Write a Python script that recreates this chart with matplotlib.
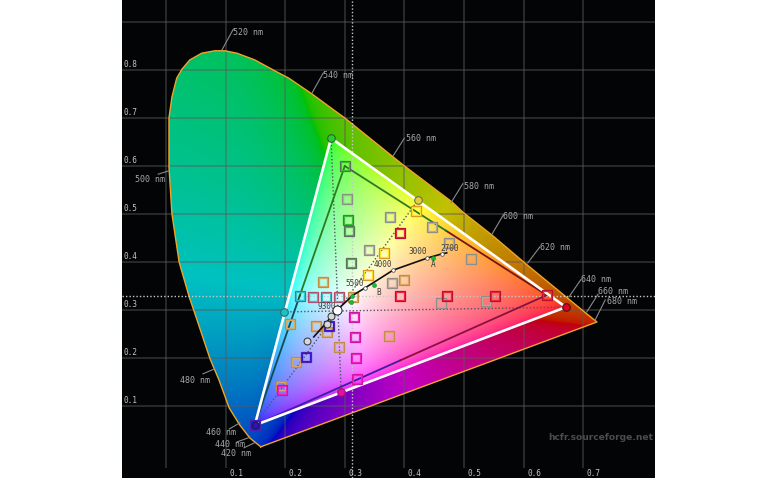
import numpy as np
import matplotlib
matplotlib.use("Agg")
import matplotlib.pyplot as plt
from matplotlib.patches import Polygon

# spectral locus, starting at the violet end
locus_x = [.159, .141, .124, .106, .089, .074, .047, .039, .022, .010, .005, .005, .005, .010, .018, .027, .040, .060,
           .082, .099, .119, .149, .183, .206, .245, .279, .300, .362, .398, .480, .498, .547, .602, .700, .723]
locus_y = [.015, .033, .060, .096, .154, .198, .298, .327, .400, .500, .598, .669, .700, .744, .783, .802, .821, .835,
           .840, .840, .835, .821, .798, .783, .750, .719, .700, .638, .602, .525, .504, .456, .398, .298, .275]

# wavelength labels
wl_names = ["520 nm", "540 nm", "560 nm", "580 nm", "600 nm", "620 nm", "640 nm", "660 nm", "680 nm",
            "500 nm", "480 nm", "460 nm", "440 nm", "420 nm"]
wl_x = [.094, .245, .381, .478, .547, .607, .676, .706, .720, .005, .081, .124, .141, .148]
wl_y = [.842, .752, .621, .523, .458, .398, .327, .296, .279, .590, .177, .065, .035, .023]
wl_end_x = [.113, .264, .400, .498, .566, .627, .696, .725, .737, -.013, .062, .106, .119, .131]
wl_end_y = [.885, .794, .658, .563, .498, .431, .363, .333, .321, .583, .167, .052, .025, .013]
wl_text_x = [.113, .264, .402, .500, .566, .627, .696, .725, .740, -.052, .023, .067, .082, .092]
wl_text_y = [.879, .788, .658, .558, .494, .431, .363, .339, .318, .571, .154, .044, .019, .000]

# display gamut (white triangle) and reference gamut (dark triangle)
disp_x = [.671, .277, .149]
disp_y = [.306, .658, .060]
ref_x = [.639, .300, .149]
ref_y = [.331, .600, .060]
white_x, white_y = .3127, .329

# secondaries of the display
sec_x = [.198, .423, .294]
sec_y = [.296, .529, .129]

# colour checker squares
gray_x = [.376, .341, .446, .475, .512, .379, .461, .537, .304]
gray_y = [.494, .425, .473, .440, .406, .356, .315, .319, .531]
orange_x = [.263, .399, .208, .252, .270, .374, .290, .218, .193, .314]
orange_y = [.358, .363, .271, .267, .254, .246, .223, .192, .142, .327]
red_x = [.393, .471, .552, .639, .393]
red_y = [.329, .329, .329, .331, .460]
yellow_x = [.339, .366, .419]
yellow_y = [.373, .419, .506]
green_x = [.307, .310, .300, .305]
green_y = [.465, .398, .600, .488]
cyan_x = [.225, .247, .268, .290]
cyan_y = [.329, .327, .327, .327]
magenta_x = [.315, .317, .319, .320, .195]
magenta_y = [.285, .244, .200, .156, .133]
blue_x = [.273, .235, .149]
blue_y = [.267, .202, .060]

# black body curve
planck_x = [.248, .263, .287, .314, .334, .381, .438, .463, .471]
planck_y = [.244, .265, .300, .331, .346, .383, .408, .417, .419]
temp_names = ["3000", "2700", "4000", "5500", "9300", "B", "A"]
temp_x = [.423, .476, .364, .317, .269, .357, .449]
temp_y = [.422, .429, .394, .356, .308, .337, .394]
meas_x = [.237, .270, .277, .287]
meas_y = [.235, .271, .287, .300]
illum_x = [.312, .310, .349, .448]
illum_y = [.329, .317, .352, .408]

tick_vals = [.1, .2, .3, .4, .5, .6, .7]
ytick_vals = [.1, .2, .3, .4, .5, .6, .7, .8]

XMIN, XMAX = -.0738, .8205
YMIN, YMAX = -.05, .9458

fig = plt.figure(figsize=(7.82, 4.80), dpi=100, facecolor="white")
ax = fig.add_axes([122 / 782, 2 / 480, 533 / 782, 478 / 480])
ax.set_facecolor("#020406")
ax.set_xlim(XMIN, XMAX)
ax.set_ylim(YMIN, YMAX)
ax.set_xticks([])
ax.set_yticks([])
for s in ax.spines.values():
    s.set_visible(False)


def inner_colors(xx, yy):
    # chromaticity to display colours, clipped to the gamut
    M = np.array([disp_x, disp_y, 1 - np.array(disp_x) - np.array(disp_y)]) / np.array(disp_y)
    w = np.array([white_x / white_y, 1, (1 - white_x - white_y) / white_y])
    M = M * np.linalg.solve(M, w)
    xyz = np.stack([xx / yy, np.ones_like(xx), (1 - xx - yy) / yy], axis=-1)
    rgb = np.clip(xyz @ np.linalg.inv(M).T, 0, None)
    rgb = rgb / rgb.max(axis=-1, keepdims=True)
    return rgb ** (1 / 2.7)


def outer_colors(xx, yy):
    # dull, fully saturated colours of the part outside the display gamut
    M = np.array([[.75, .10, .15], [.26, 1.2, -.02], [1, 1, 1]])
    pts = np.stack([xx, yy, np.ones_like(xx)], axis=-1)
    rgb = np.clip(pts @ np.linalg.inv(M).T, 0, None) * np.array([1, 1.8, .8])
    rgb = rgb - rgb.min(axis=-1, keepdims=True)
    rgb = rgb / np.maximum(rgb.max(axis=-1, keepdims=True), 1e-6)
    return rgb ** (1 / 2.2) * .76


gx, gy = np.meshgrid(np.linspace(XMIN, XMAX, 1066), np.linspace(YMIN, YMAX, 956))
gy_safe = np.clip(gy, .005, None)

locus = Polygon(np.column_stack([locus_x, locus_y]), closed=True, transform=ax.transData, fc="none", ec="none")
ax.add_patch(locus)
outer = ax.imshow(outer_colors(gx, gy_safe), extent=(XMIN, XMAX, YMIN, YMAX), origin="lower", aspect="auto", zorder=1)
outer.set_clip_path(locus)

# grid goes over the dim part only
ax.vlines([0] + tick_vals, YMIN + .02, YMAX, color="#5a5a5a", lw=1.1, alpha=.55, zorder=2)
ax.hlines(ytick_vals + [.9], XMIN, XMAX, color="#5a5a5a", lw=1.1, alpha=.55, zorder=2)

tri = Polygon(np.column_stack([disp_x, disp_y]), closed=True, transform=ax.transData, fc="none", ec="none")
ax.add_patch(tri)
inner = ax.imshow(inner_colors(gx, gy_safe), extent=(XMIN, XMAX, YMIN, YMAX), origin="lower", aspect="auto", zorder=3)
inner.set_clip_path(tri)
ax.set_xlim(XMIN, XMAX)
ax.set_ylim(YMIN, YMAX)

ax.plot(locus_x + locus_x[:1], locus_y + locus_y[:1], color="#f0a428", lw=1.0, zorder=4)

# white point cross and gamut diagonals
ax.vlines(white_x, YMIN, YMAX, color="#c8c8c8", lw=1, linestyles=(0, (1, 1.5)), zorder=4)
ax.hlines(white_y, XMIN, XMAX, color="#c8c8c8", lw=1, linestyles=(0, (1, 1.5)), zorder=4)
for i, j in [(1, 2), (0, 0), (2, 1)]:
    ax.plot([disp_x[j], sec_x[i]], [disp_y[j], sec_y[i]], color="#555560", lw=1, ls=(0, (1, 1.5)), zorder=4)

# reference triangle, darker lines shaded towards each primary
ref_cols = [("#7a1414", "#2e7a20"), ("#2e7a20", "#154a50"), ("#3a20a0", "#8a1040")]
for k, (a, b) in enumerate([(0, 1), (1, 2), (2, 0)]):
    mx, my = (ref_x[a] + ref_x[b]) / 2, (ref_y[a] + ref_y[b]) / 2
    ax.plot([ref_x[a], mx], [ref_y[a], my], color=ref_cols[k][0], lw=1.3, zorder=5)
    ax.plot([mx, ref_x[b]], [my, ref_y[b]], color=ref_cols[k][1], lw=1.3, zorder=5)

ax.plot(disp_x + disp_x[:1], disp_y + disp_y[:1], color="white", lw=1.9, zorder=6)


def squares(xs, ys, outer_col, inner_col):
    ax.plot(xs, ys, "s", ms=7.2, mfc="none", mec=outer_col, mew=.9, zorder=7)
    ax.plot(xs, ys, "s", ms=5.4, mfc="none", mec=inner_col, mew=.9, zorder=7)


squares(gray_x, gray_y, "#8a8a88", "#b0aca0")
squares(orange_x, orange_y, "#c08a40", "#d8a860")
squares(red_x, red_y, "#b01030", "#f02040")
squares(yellow_x, yellow_y, "#d89020", "#ffe020")
squares(green_x, green_y, "#606860", "#30c030")
squares(cyan_x, cyan_y, "#c04060", "#30c0d0")
squares(magenta_x, magenta_y, "#d010a0", "#f020c0")
squares(blue_x, blue_y, "#5020b0", "#3018d0")

# measured primaries and secondaries
ax.plot(disp_x[1], disp_y[1], "o", ms=5.5, mfc="#20d030", mec="#306030", mew=.8, zorder=8)
ax.plot(disp_x[0], disp_y[0], "o", ms=5.5, mfc="#e00020", mec="#501010", mew=.8, zorder=8)
ax.plot(disp_x[2], disp_y[2], "o", ms=5, mfc="#3010c0", mec="#201060", mew=.8, zorder=8)
ax.plot(sec_x[0], sec_y[0], "o", ms=5.5, mfc="#20c0c0", mec="#406868", mew=.8, zorder=8)
ax.plot(sec_x[1], sec_y[1], "o", ms=5.5, mfc="#e0d040", mec="#707050", mew=.8, zorder=8)
ax.plot(sec_x[2], sec_y[2], "o", ms=5.5, mfc="#e010a0", mec="#a01070", mew=.8, zorder=8)

# black body curve and grey scale points
ax.plot(planck_x, planck_y, color="#101010", lw=1.2, zorder=8)
ax.plot(planck_x[4:8], planck_y[4:8], "o", ms=2.6, mfc="white", mec="#304050", mew=.5, zorder=9)
ax.plot(meas_x, meas_y, "o", ms=5, mfc="#d8d8d8", mec="#303030", mew=.7, zorder=9)
ax.plot(meas_x[3], meas_y[3], "o", ms=6.5, mfc="white", mec="#202020", mew=.7, zorder=9)
ax.plot(illum_x, illum_y, "o", ms=3, mfc="#10c030", mec="#108020", mew=.3, zorder=9)
for name, tx, ty in zip(temp_names, temp_x, temp_y):
    ax.text(tx, ty, name, fontsize=5.6, family="DejaVu Sans Mono", color="#403c38", ha="center", va="center", zorder=9)

# wavelength labels
for i, name in enumerate(wl_names):
    ax.plot([wl_x[i], wl_end_x[i]], [wl_y[i], wl_end_y[i]], color="#8a8a8a", lw=.8, zorder=5)
    ax.text(wl_text_x[i], wl_text_y[i], name, fontsize=6, family="DejaVu Sans Mono", color="#a8a8a8",
            ha="left", va="center", zorder=5)

# axis numbers sit inside the black area
for v in tick_vals:
    ax.text(v + .006, -.040, f"{v:.1f}", fontsize=5.6, family="DejaVu Sans Mono", color="#c4c4c4", ha="left", va="center")
for v in ytick_vals:
    ax.text(-.0712, v + .012, f"{v:.1f}", fontsize=5.6, family="DejaVu Sans Mono", color="#c4c4c4", ha="left", va="center")

ax.text(.8175, .034, "hcfr.sourceforge.net", fontsize=6.6, fontweight="bold", color="#4c4c4c", ha="right", va="center")

fig.savefig("out.png", dpi=100, facecolor="white")
